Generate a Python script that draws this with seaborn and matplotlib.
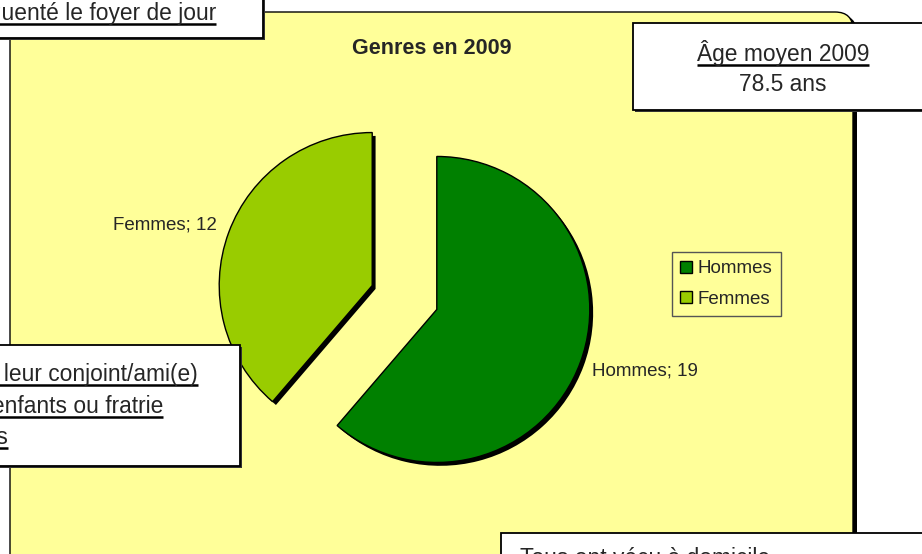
import matplotlib
matplotlib.use("Agg")
import matplotlib.pyplot as plt
import seaborn as sns
from matplotlib.patches import FancyBboxPatch, Rectangle

# données
genres = ["Hommes", "Femmes"]
effectifs = [19, 12]
couleurs = ["#008000", "#99CC00"]
titre = "Genres en 2009"
age_titre = "Âge moyen 2009"
age_valeur = "78.5 ans"

sns.set_style("white")
plt.rcParams["font.family"] = ["Liberation Sans", "DejaVu Sans"]

W, H = 922, 554
fig = plt.figure(figsize=(W / 100, H / 100), dpi=100)
fig.patch.set_facecolor("white")

# fond : zone de graphique jaune
bg = fig.add_axes([0, 0, 1, 1], zorder=0)
bg.set_xlim(0, W)
bg.set_ylim(H, 0)
bg.axis("off")
bg.add_patch(FancyBboxPatch((14, 15), 843, 620, boxstyle="round,pad=0,rounding_size=18",
                            fc="black", ec="none"))
bg.add_patch(FancyBboxPatch((10, 12), 843, 620, boxstyle="round,pad=0,rounding_size=18",
                            fc="#FFFF99", ec="black", lw=1))
bg.text(432, 48, titre, ha="center", va="center", fontsize=15.5, fontweight="bold")

# camembert
R = 153
cx, cy = 404.5, 297.5
ax = fig.add_axes([(cx - 1.5 * R) / W, (H - cy - 1.5 * R) / H, 3 * R / W, 3 * R / H], zorder=1)
ax.patch.set_alpha(0)
ecart = [0.225, 0.225]
ax.pie(effectifs, startangle=90, counterclock=False, explode=ecart,
       colors=["black", "black"], center=(0.022, -0.022), wedgeprops=dict(lw=0))
etiquettes = [f"{g}; {v}" for g, v in zip(genres, effectifs)]
parts, textes = ax.pie(effectifs, labels=etiquettes, startangle=90, counterclock=False,
                       explode=ecart, colors=couleurs, labeldistance=1.08,
                       wedgeprops=dict(edgecolor="black", lw=1),
                       textprops=dict(fontsize=13.5))
# léger recalage vertical des étiquettes (position type Excel)
textes[0].set_y(textes[0].get_position()[1] - 0.03)
textes[1].set_y(textes[1].get_position()[1] + 0.02)
ax.set_xlim(-1.5, 1.5)
ax.set_ylim(-1.5, 1.5)
ax.axis("off")

fig.legend(parts, genres, loc="upper left", bbox_to_anchor=(672 / W, 1 - 252 / H),
           frameon=True, fancybox=False, edgecolor="#555555", facecolor="#FFFF99",
           framealpha=1, fontsize=13.5, handlelength=0.6, handleheight=0.6,
           handletextpad=0.3, borderpad=0.45, labelspacing=0.72, borderaxespad=0)

# zones de texte superposées
ov = fig.add_axes([0, 0, 1, 1], zorder=3)
ov.set_xlim(0, W)
ov.set_ylim(H, 0)
ov.axis("off")
ov.patch.set_alpha(0)

boites = [(-5, -5, 268, 43), (-5, 345, 245, 121), (633, 23, 300, 87), (501, 533, 430, 40)]
for x, y, w, h in boites:
    ov.add_patch(Rectangle((x + 2, y + 2), w, h, fc="#333333", ec="none"))
    ov.add_patch(Rectangle((x, y), w, h, fc="white", ec="black", lw=1.3))

lignes = [
    ("Ont fréquenté le foyer de jour", 216, 20, "right"),
    ("Vivent avec leur conjoint/ami(e)", 198, 381, "right"),
    ("Vivent avec enfants ou fratrie", 163, 413, "right"),
    ("Vivent seuls", 8, 444, "right"),
    (age_titre, 783, 61, "center"),
]
fig.canvas.draw()
inv = ov.transData.inverted()
for txt, x, y, ha in lignes:
    t = ov.text(x, y, txt, ha=ha, va="baseline", fontsize=16.4)
    bb = t.get_window_extent(renderer=fig.canvas.get_renderer())
    x0, _ = inv.transform((bb.x0, bb.y0))
    x1, _ = inv.transform((bb.x1, bb.y0))
    ov.plot([x0, x1], [y + 4, y + 4], color="black", lw=1.8, solid_capstyle="butt")

ov.text(783, 91, age_valeur, ha="center", va="baseline", fontsize=16.4)
ov.text(520, 565, "Tous ont vécu à domicile", ha="left", va="baseline", fontsize=16.4)

fig.savefig("out.png", dpi=100)
